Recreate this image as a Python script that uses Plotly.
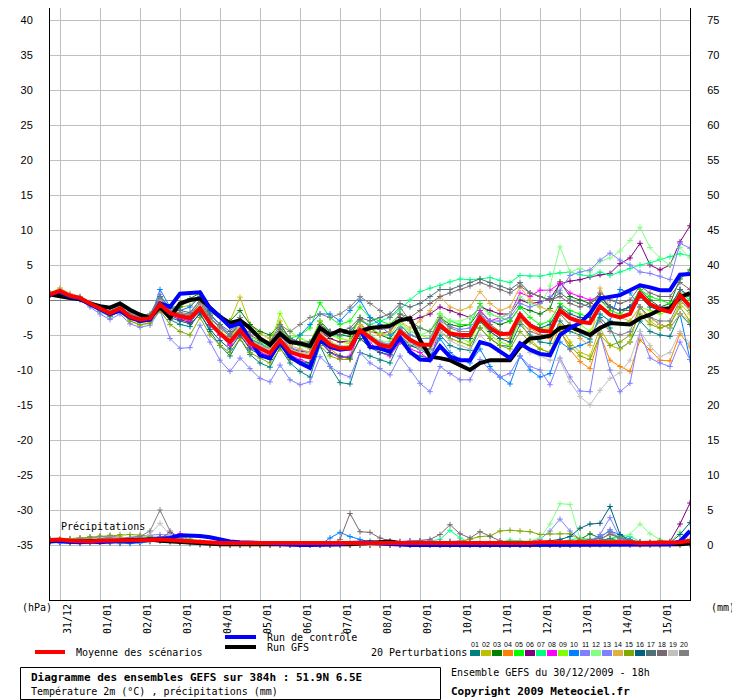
import pandas as pd
import plotly.graph_objects as go

# ---------------- DATA ----------------
run_start = "2009-12-30 18:00"
step = "6h"
date_labels = ["31/12", "01/01", "02/01", "03/01", "04/01", "05/01", "06/01", "07/01",
               "08/01", "09/01", "10/01", "11/01", "12/01", "13/01", "14/01", "15/01"]
temp_ticks = [-35, -30, -25, -20, -15, -10, -5, 0, 5, 10, 15, 20, 25, 30, 35, 40]
precip_ticks = [0, 5, 10, 15, 20, 25, 30, 35, 40, 45, 50, 55, 60, 65, 70, 75]

member_names = ["01", "02", "03", "04", "05", "06", "07", "08", "09", "10",
                "11", "12", "13", "14", "15", "16", "17", "18", "19", "20"]
member_colors = ["#008080", "#c0c000", "#008000", "#ff8000", "#00ff00", "#800080",
                 "#00ff80", "#ff00ff", "#80ff00", "#0080ff", "#8080ff", "#80ff80",
                 "#8080ff", "#e0b040", "#80a800", "#006080", "#507078", "#786870",
                 "#c0c0c0", "#808080"]

# 2m temperature (deg C), every 6 h
mean_t = [0.8, 1.3, 0.6, 0.3, -0.5, -1.2, -1.9, -1.2, -2.4, -2.8, -2.6, -0.6, -1.9, -2.3, -2.6,
          -1.2, -3.3, -4.8, -6.0, -4.3, -6.1, -6.9, -7.6, -5.7, -7.4, -7.9, -8.2, -5.1, -6.4, -6.9, -6.9,
          -4.3, -5.4, -6.4, -6.7, -4.5, -5.7, -6.4, -6.4, -3.6, -4.8, -5.0, -5.0, -2.5, -4.0, -4.9, -4.8,
          -2.1, -3.6, -4.4, -4.5, -1.5, -2.6, -3.1, -3.3, -0.9, -2.1, -2.5, -2.0, 0.9, -0.6, -1.3, -1.7,
          0.7, -0.9]
control_t = [0.8, 1.2, 0.5, 0.2, -0.6, -1.3, -2.0, -1.5, -2.5, -3.0, -2.8, -0.5, -1.0, 0.9, 1.0,
             1.1, -1.2, -2.4, -3.8, -3.3, -5.7, -7.9, -8.3, -6.0, -8.1, -9.0, -9.7, -5.7, -6.7, -7.1, -6.9,
             -4.3, -6.7, -6.9, -7.4, -5.4, -7.4, -8.5, -8.6, -6.6, -8.1, -8.6, -8.6, -6.0, -6.4, -7.4, -8.3,
             -6.2, -7.1, -7.7, -7.9, -5.0, -4.0, -3.3, -1.9, 0.2, 0.4, 0.7, 1.4, 2.1, 1.8, 1.4, 1.4,
             3.6, 3.7]
gfs_t = [0.8, 0.5, 0.3, 0.1, -0.5, -0.9, -1.1, -0.5, -1.4, -2.1, -2.6, -1.0, -2.5, -0.5, 0.0,
         0.2, -1.2, -2.4, -3.3, -2.9, -4.0, -5.5, -6.4, -4.8, -6.0, -6.2, -6.6, -4.0, -5.0, -4.3, -4.7,
         -4.5, -4.0, -3.8, -3.7, -2.9, -2.6, -5.7, -8.1, -8.3, -8.6, -9.3, -10.0, -9.0, -8.6, -8.6, -8.6,
         -6.7, -5.5, -5.4, -5.1, -4.0, -3.8, -4.4, -5.0, -4.0, -3.3, -3.4, -3.5, -2.6, -2.1, -1.4, -1.2,
         0.4, 1.0]

t01 = [0.9, 1.4, 0.7, 0.4, -0.6, -1.5, -2.3, -1.6, -2.6, -3.2, -3.0, 0.2, -2.8, -3.5, -3.8,
       -1.8, -4.5, -6.5, -8.0, -5.5, -7.8, -9.0, -9.6, -6.8, -9.0, -10.2, -11.0, -6.5, -9.5, -11.8, -12.0,
       -7.5, -8.0, -8.6, -9.0, -6.0, -7.5, -8.0, -8.3, -5.0, -6.5, -7.0, -7.2, -4.0, -5.5, -6.5, -6.6,
       -3.5, -5.0, -6.0, -6.2, -3.0, -4.5, -5.0, -5.6, -2.5, -4.0, -6.9, -6.0, -3.0, -4.5, -5.0, -5.2,
       -2.0, -3.5]
t02 = [1.0, 1.7, 0.9, 0.5, -0.4, -1.3, -2.2, -1.7, -3.0, -3.6, -3.3, -0.4, -1.5, -1.0, -0.8,
       0.6, -1.8, -2.5, -3.0, 0.4, -3.5, -4.8, -5.5, -3.0, -6.0, -6.5, -7.0, -4.0, -5.5, -6.0, -6.2,
       -3.5, -5.0, -6.0, -6.5, -4.0, -5.5, -6.2, -6.6, -3.0, -5.0, -5.5, -5.0, -2.0, -3.5, -4.5, -5.5,
       -3.0, -5.5, -7.0, -7.5, -3.5, -6.0, -7.5, -8.0, -4.0, -6.5, -7.0, -6.0, -1.0, -3.0, -4.0, -3.5,
       -0.5, -2.0]
t03 = [0.8, 1.2, 0.5, 0.2, -0.7, -1.4, -2.0, -1.0, -2.2, -2.6, -2.4, 0.5, -1.0, -1.0, 0.2,
       1.0, -1.5, -2.3, -3.0, -1.5, -3.5, -4.5, -5.0, -3.5, -5.5, -6.0, -6.3, -3.0, -4.5, -5.0, -5.2,
       -2.5, -4.0, -5.0, -5.5, -3.5, -5.0, -5.5, -5.5, -2.5, -3.5, -3.8, -3.5, -1.5, -3.0, -3.5, -3.0,
       -1.0, -1.5, -2.0, -1.2, 2.6, 0.5, 0.0, -0.5, 0.5, -1.0, -1.5, -1.0, 1.5, 0.0, -1.0, -0.5,
       3.0, 4.3]
t04 = [0.7, 1.3, 0.6, 0.3, -0.4, -1.0, -1.7, -1.2, -2.3, -2.6, -2.5, -0.8, -2.0, -2.6, -3.0,
       -1.5, -3.5, -5.0, -6.3, -4.8, -6.5, -7.4, -8.0, -5.5, -7.0, -7.5, -7.8, -5.5, -7.0, -8.0, -8.5,
       -4.0, -5.5, -6.5, -7.0, -4.5, -6.0, -6.8, -7.0, -3.5, -4.5, -5.0, -5.5, -3.0, -4.5, -5.5, -5.5,
       -2.5, -4.0, -5.0, -5.5, -4.3, -7.1, -8.8, -9.8, -5.0, -8.6, -9.5, -10.2, -5.7, -7.1, -8.6, -8.7,
       -4.8, -6.7]
t05 = [0.8, 1.3, 0.6, 0.3, -0.5, -1.1, -1.8, -1.0, -2.2, -2.5, -2.3, 0.0, -1.8, -2.2, -2.6,
       -0.8, -3.0, -4.5, -5.8, -3.5, -5.5, -6.5, -7.0, -4.5, -5.5, -5.0, -4.0, -0.4, -2.5, -3.5, -3.0,
       -1.0, -2.5, -3.0, -3.5, -2.0, -3.0, -4.0, -4.5, -2.0, -3.0, -3.5, -3.5, -0.5, -2.0, -2.5, -3.0,
       -1.0, -2.5, -3.5, -3.0, -0.5, -1.5, -2.0, -2.5, 0.0, -1.5, -2.0, -1.0, 1.5, 0.5, 0.0, -0.5,
       1.0, 0.0]
t06 = [0.9, 1.3, 0.6, 0.3, -0.6, -1.3, -2.1, -1.3, -2.5, -3.0, -2.8, -0.8, -2.2, -2.8, -3.2,
       -1.5, -3.6, -5.0, -6.3, -4.5, -6.3, -7.0, -7.5, -5.5, -7.0, -7.3, -7.5, -4.5, -5.5, -6.0, -5.8,
       -3.5, -4.5, -4.8, -4.5, -2.5, -3.0, -2.5, -2.0, -1.0, -1.5, -2.1, -2.5, -1.0, -1.5, -2.0, -2.0,
       0.0, -0.5, -0.3, 0.2, 2.3, 2.7, 2.9, 3.3, 3.6, 3.8, 5.2, 6.0, 8.1, 5.0, 4.3, 5.0,
       8.3, 10.6]
t07 = [0.8, 1.2, 0.6, 0.2, -0.6, -1.4, -2.0, -1.3, -2.5, -3.0, -2.8, -0.6, -2.0, -2.5, -2.8,
       -1.0, -3.0, -4.5, -5.5, -3.8, -5.5, -6.2, -6.8, -4.8, -6.0, -6.5, -6.8, -4.0, -5.0, -5.2, -4.5,
       -3.0, -3.5, -3.0, -2.5, -1.4, 0.0, 1.2, 1.7, 2.1, 2.6, 3.0, 2.9, 3.0, 3.2, 2.8, 2.5,
       3.5, 3.4, 3.4, 3.7, 3.9, 4.0, 3.6, 3.4, 4.0, 3.5, 4.0, 4.5, 5.0, 5.3, 5.8, 6.2,
       6.6, 6.3]
t08 = [0.7, 1.2, 0.5, 0.2, -0.6, -1.3, -2.0, -1.3, -2.5, -2.9, -2.8, -0.4, -2.0, -2.6, -3.0,
       -1.5, -3.5, -5.0, -6.5, -5.0, -6.8, -7.5, -8.0, -6.0, -7.8, -8.5, -9.0, -5.5, -7.5, -8.3, -8.0,
       -4.5, -6.0, -7.5, -8.0, -6.0, -7.0, -7.5, -8.6, -4.0, -5.0, -5.5, -5.0, -1.5, -3.0, -2.5, -2.0,
       1.0, 0.5, 1.4, 1.4, 2.4, 1.0, 0.5, 0.0, 0.5, -1.0, -1.5, -1.0, 1.0, -0.5, -1.0, -1.5,
       0.5, -1.0]
t09 = [0.8, 1.3, 0.6, 0.4, -0.4, -1.2, -1.8, -0.8, -2.2, -2.8, -2.6, 0.2, -1.6, -2.0, -2.4,
       -0.5, -3.0, -4.4, -5.5, -3.0, -5.2, -6.0, -6.5, -1.9, -4.5, -5.5, -6.0, -3.0, -5.0, -5.5, -5.8,
       -2.5, -4.0, -4.8, -5.0, -3.0, -4.5, -5.0, -5.5, -2.0, -4.5, -5.5, -6.0, -3.0, -5.0, -6.0, -6.5,
       -2.5, -3.5, -4.0, -4.0, -1.0, -2.5, -3.5, -4.5, -2.0, -3.0, -3.5, -3.0, -1.0, -1.5, -2.0, -1.5,
       0.0, -1.5]
t10 = [0.7, 1.1, 0.5, 0.1, -0.8, -1.6, -2.4, -1.5, -2.7, -3.0, -2.8, 1.5, -1.0, -1.5, -1.0,
       0.5, -2.0, -3.5, -5.0, -3.5, -5.5, -6.3, -7.0, -5.0, -6.8, -5.0, -3.5, -2.0, -2.0, -3.0, -1.5,
       0.0, -2.5, -3.5, -5.0, -4.0, -6.0, -7.0, -8.0, -5.5, -7.5, -8.5, -9.0, -7.0, -9.5, -11.0, -12.0,
       -8.0, -10.0, -11.0, -10.5, -6.0, -7.0, -6.5, -6.0, -2.0, -3.0, 1.5, 1.0, -1.0, -2.5, -3.5, -4.0,
       -2.0, -8.5]
t11 = [0.7, 1.1, 0.4, 0.0, -1.0, -2.0, -2.8, -2.0, -3.4, -3.9, -3.6, -1.5, -5.5, -6.9, -6.8,
       -3.6, -6.0, -8.6, -10.2, -8.3, -9.8, -11.2, -11.7, -9.3, -11.4, -12.1, -11.7, -8.1, -9.5, -10.5, -11.0,
       -7.5, -9.0, -9.8, -10.7, -8.0, -10.0, -11.9, -13.1, -9.5, -10.5, -11.4, -11.4, -8.5, -10.0, -11.0, -10.5,
       -8.0, -9.5, -10.0, -12.1, -8.3, -11.0, -13.0, -13.1, -4.8, -10.0, -13.1, -11.9, -4.5, -8.3, -9.0, -9.5,
       -6.0, -8.5]
t12 = [0.8, 1.3, 0.6, 0.3, -0.5, -1.2, -1.9, -1.1, -2.3, -2.7, -2.5, -0.3, -1.8, -2.2, -2.5,
       -1.0, -3.2, -4.7, -6.0, -4.0, -6.0, -6.8, -7.4, -5.5, -7.0, -7.5, -7.8, -4.5, -6.0, -6.5, -6.5,
       -4.0, -5.0, -5.8, -6.0, -3.5, -4.5, -5.0, -4.5, -2.0, -3.0, -3.0, -2.5, -1.0, -2.0, -2.5, -2.0,
       0.5, -0.5, -1.0, 2.0, 7.6, 4.0, 4.5, 4.0, 5.5, 6.0, 7.0, 8.5, 10.4, 7.5, 6.0, 5.0,
       7.5, 6.0]
t13 = [0.9, 1.4, 0.7, 0.4, -0.4, -1.1, -1.7, -1.0, -2.0, -2.4, -2.2, 0.8, -1.5, -2.0, -2.4,
       -0.8, -3.2, -4.6, -5.8, -4.0, -5.8, -6.6, -7.2, -5.0, -6.8, -7.2, -7.4, -4.8, -6.2, -6.6, -6.8,
       -4.2, -5.2, -6.0, -6.3, -4.2, -5.0, -5.5, -5.5, -3.0, -3.8, -4.2, -4.0, -2.0, -3.0, -3.0, -2.5,
       -0.5, -1.0, -0.5, 0.5, 1.4, 3.5, 4.0, 4.3, 5.7, 6.7, 5.7, 5.0, 4.0, 3.8, 3.4, 2.9,
       8.1, 7.4]
t14 = [1.0, 1.7, 0.8, 0.5, -0.3, -1.0, -1.8, -1.2, -2.6, -3.0, -2.8, -0.5, -1.7, -2.0, -2.3,
       -0.5, -3.0, -4.5, -5.5, -3.5, -5.5, -6.5, -7.0, -5.0, -6.5, -7.0, -7.5, -4.5, -6.0, -6.8, -6.5,
       -3.5, -4.5, -5.0, -4.5, -3.0, -4.0, -3.0, -1.5, 0.5, -1.0, -1.5, -1.0, 1.2, -0.5, -1.5, -1.0,
       1.9, 0.0, -1.0, -1.5, -2.0, -3.5, -5.5, -6.5, 1.7, -1.0, -2.5, -3.0, -1.0, -2.5, -3.5, -4.0,
       -2.0, -3.0]
t15 = [0.7, 1.2, 0.5, 0.2, -0.7, -1.5, -2.3, -1.6, -3.0, -3.5, -3.3, -1.5, -3.5, -4.5, -5.0,
       -2.5, -5.0, -6.5, -7.5, -5.5, -7.5, -8.3, -9.0, -7.0, -8.5, -9.0, -9.2, -6.5, -8.0, -8.5, -8.5,
       -5.5, -6.5, -7.0, -7.5, -5.5, -6.5, -7.0, -7.2, -4.5, -5.5, -6.0, -6.5, -4.0, -5.5, -6.5, -7.0,
       -4.5, -6.0, -7.0, -7.5, -4.5, -6.5, -8.0, -8.5, -5.0, -6.5, -6.0, -5.0, -2.0, -3.5, -4.0, -3.5,
       -1.0, -3.0]
t16 = [0.8, 1.2, 0.6, 0.3, -0.5, -1.2, -2.0, -1.2, -2.4, -2.8, -2.6, -0.5, -2.5, -3.0, -3.4,
       -2.0, -4.2, -5.8, -7.0, -5.0, -7.0, -7.8, -8.5, -6.5, -8.2, -8.8, -9.0, -6.0, -7.5, -8.0, -8.3,
       -5.5, -6.8, -7.5, -7.8, -5.0, -6.5, -7.0, -7.0, -4.0, -5.0, -5.5, -5.5, -3.0, -4.5, -5.5, -6.0,
       -2.0, -3.5, -4.0, -3.5, -1.0, -2.0, -2.5, -2.5, 0.5, -1.0, -1.5, -1.0, 0.5, -1.0, -1.5, -1.0,
       1.5, 0.5]
t17 = [0.9, 1.4, 0.7, 0.4, -0.4, -1.0, -1.6, -0.6, -1.8, -2.2, -2.0, 0.5, -1.2, -1.5, -1.8,
       0.0, -2.2, -3.5, -4.5, -2.5, -4.5, -5.5, -6.0, -4.0, -5.5, -6.0, -6.0, -3.5, -4.5, -4.5, -4.0,
       -2.5, -3.0, -2.5, -2.0, -0.5, -1.0, -0.5, 0.5, 1.5, 1.5, 2.0, 2.5, 3.0, 2.5, 2.0, 1.5,
       2.5, 1.0, 0.5, 0.0, 1.0, 0.0, -0.5, -1.0, 0.0, -1.0, -1.5, -1.5, 0.5, -0.5, -1.0, -1.0,
       1.5, 0.5]
t18 = [0.8, 1.3, 0.6, 0.3, -0.5, -1.2, -1.9, -0.9, -2.1, -2.6, -2.4, -0.2, -1.7, -2.0, -2.2,
       -0.4, -2.6, -4.0, -5.2, -3.0, -5.0, -5.8, -6.4, -4.2, -5.8, -6.2, -6.5, -3.5, -4.8, -5.0, -4.5,
       -2.8, -3.8, -4.2, -4.0, -2.0, -2.5, -1.5, -0.5, 0.5, 1.0, 1.5, 2.0, 2.5, 2.0, 1.5, 1.0,
       2.0, 1.0, 0.5, 0.0, 0.5, -0.5, -1.0, -0.5, 1.0, 0.0, -0.5, 0.0, 2.0, 1.0, 0.5, 0.5,
       2.5, 1.5]
t19 = [0.9, 1.5, 0.8, 0.4, -0.4, -1.1, -1.8, -1.0, -2.3, -2.7, -2.5, 0.0, -1.7, -2.2, -2.5,
       -0.8, -3.0, -4.5, -5.7, -3.8, -5.8, -6.6, -7.2, -5.5, -7.2, -7.6, -7.8, -5.0, -6.5, -7.0, -7.2,
       -4.5, -5.8, -6.8, -7.2, -5.0, -6.2, -7.0, -7.3, -4.5, -5.8, -6.5, -7.0, -5.0, -6.5, -7.5, -8.0,
       -6.0, -7.5, -8.0, -8.6, -8.6, -11.7, -13.8, -15.0, -12.9, -11.2, -10.4, -8.6, -4.5, -6.5, -8.1, -7.5,
       -4.5, -6.2]
t20 = [0.8, 1.3, 0.6, 0.3, -0.4, -1.0, -1.7, -0.8, -2.0, -2.4, -2.2, 0.3, -1.5, -1.8, -2.0,
       0.0, -2.5, -3.8, -5.0, -2.5, -4.5, -5.5, -6.0, -3.5, -4.5, -3.5, -2.5, -2.0, -2.5, -2.0, -1.0,
       0.5, -0.5, -1.5, -2.5, -1.0, -3.0, -4.0, -4.5, -2.5, -4.0, -4.5, -4.5, -2.0, -3.5, -4.5, -5.0,
       -3.0, -4.5, -5.0, -5.0, -2.0, -3.5, -4.5, -5.0, -3.0, -4.5, -5.0, -4.5, -1.0, -2.5, -3.0, -3.0,
       0.0, -1.5]

# 6-hourly precipitation (mm)
mean_p = [0.7, 0.8, 0.6, 0.5, 0.5, 0.6, 0.6, 0.7, 0.7, 0.7, 0.7, 0.8, 0.7, 0.6, 0.5, 0.4, 0.4, 0.3, 0.3, 0.3,
          0.3, 0.2, 0.2, 0.2, 0.2, 0.2, 0.2, 0.2, 0.2, 0.3, 0.3, 0.3, 0.3, 0.3, 0.3, 0.3, 0.2, 0.2, 0.2, 0.3,
          0.3, 0.3, 0.3, 0.3, 0.3, 0.3, 0.3, 0.3, 0.3, 0.4, 0.4, 0.5, 0.5, 0.5, 0.4, 0.4, 0.5, 0.5, 0.4, 0.3,
          0.3, 0.3, 0.4, 0.4, 0.6]
control_p = [0.6, 0.5, 0.5, 0.4, 0.5, 0.4, 0.5, 0.6, 0.5, 0.6, 0.7, 0.8, 1.0, 1.4, 1.4, 1.3, 1.1, 0.8, 0.5, 0.4,
             0.4, 0.3, 0.2, 0.1, 0.1, 0.0, 0.0, 0.0, 0.0, 0.1, 0.3, 0.4, 0.4, 0.2, 0.1, 0.0, 0.0, 0.0, 0.0, 0.0,
             0.0, 0.0, 0.0, 0.0, 0.0, 0.0, 0.0, 0.0, 0.0, 0.0, 0.0, 0.0, 0.0, 0.0, 0.0, 0.0, 0.0, 0.0, 0.0, 0.0,
             0.0, 0.0, 0.1, 0.5, 2.0]
gfs_p = [0.5, 0.6, 0.5, 0.5, 0.6, 0.5, 0.5, 0.6, 0.7, 0.8, 0.8, 0.6, 0.5, 0.4, 0.3, 0.2, 0.1, 0.1, 0.1, 0.1,
         0.1, 0.0, 0.0, 0.0, 0.0, 0.0, 0.0, 0.0, 0.0, 0.0, 0.1, 0.2, 0.3, 0.4, 0.5, 0.3, 0.1, 0.0, 0.0, 0.0,
         0.0, 0.0, 0.0, 0.0, 0.0, 0.0, 0.0, 0.0, 0.0, 0.0, 0.0, 0.0, 0.0, 0.0, 0.0, 0.0, 0.0, 0.0, 0.0, 0.0,
         0.0, 0.0, 0.0, 0.1, 0.2]

p01 = [0.8, 0.6, 0.4, 0.5, 0.6, 0.5, 0.4, 0.5, 0.6, 0.5, 0.6, 0.8, 0.5, 0.3, 0.2, 0.1, 0.1, 0.0, 0.0, 0.0,
       0.0, 0.0, 0.0, 0.0, 0.0, 0.0, 0.0, 0.0, 0.0, 0.1, 0.2, 0.3, 0.1, 0.0, 0.0, 0.0, 0.1, 0.2, 0.1, 0.0,
       0.0, 0.1, 0.2, 0.1, 0.0, 0.0, 0.0, 0.2, 0.4, 0.3, 0.2, 0.5, 0.3, 0.1, 0.2, 0.1, 0.0, 0.2, 0.3, 0.1,
       0.0, 0.1, 0.2, 0.5, 0.3]
p02 = [0.9, 0.7, 0.9, 1.0, 0.8, 0.7, 0.6, 0.8, 0.9, 1.0, 1.0, 0.9, 0.6, 0.4, 0.2, 0.1, 0.0, 0.0, 0.0, 0.0,
       0.0, 0.0, 0.0, 0.0, 0.0, 0.0, 0.0, 0.0, 0.0, 0.0, 0.1, 0.0, 0.0, 0.0, 0.0, 0.0, 0.0, 0.0, 0.0, 0.0,
       0.0, 0.0, 0.0, 0.0, 0.0, 0.1, 0.2, 0.3, 0.4, 0.2, 0.1, 0.0, 0.0, 0.0, 0.1, 0.2, 0.1, 0.0, 0.0, 0.0,
       0.0, 0.0, 0.1, 0.2, 0.4]
p03 = [0.7, 0.6, 0.5, 0.7, 0.8, 0.6, 0.7, 0.6, 0.5, 0.7, 0.9, 1.0, 0.8, 0.5, 0.4, 0.3, 0.2, 0.1, 0.0, 0.0,
       0.0, 0.0, 0.0, 0.0, 0.0, 0.0, 0.0, 0.0, 0.0, 0.0, 0.0, 0.1, 0.1, 0.0, 0.0, 0.0, 0.0, 0.0, 0.0, 0.2,
       0.5, 0.3, 0.2, 0.1, 0.0, 0.1, 0.2, 0.1, 0.0, 0.0, 0.0, 0.0, 0.2, 0.8, 1.6, 1.0, 0.4, 0.2, 0.1, 0.2,
       0.4, 0.3, 0.1, 0.0, 0.2]
p04 = [0.6, 0.9, 0.7, 0.6, 0.5, 0.8, 1.1, 0.7, 0.6, 0.6, 0.5, 0.6, 0.5, 0.4, 0.3, 0.1, 0.1, 0.0, 0.0, 0.0,
       0.0, 0.0, 0.0, 0.0, 0.0, 0.0, 0.0, 0.0, 0.0, 0.0, 0.0, 0.0, 0.0, 0.0, 0.0, 0.0, 0.0, 0.1, 0.0, 0.0,
       0.0, 0.0, 0.0, 0.0, 0.0, 0.0, 0.0, 0.0, 0.0, 0.0, 0.1, 0.3, 0.2, 0.1, 0.0, 0.0, 0.0, 0.1, 0.2, 0.1,
       0.0, 0.0, 0.0, 0.0, 0.0]
p05 = [0.6, 0.5, 0.6, 0.5, 0.4, 0.5, 0.6, 0.5, 0.4, 0.6, 0.8, 1.2, 1.0, 1.3, 0.8, 0.4, 0.2, 0.1, 0.0, 0.0,
       0.0, 0.0, 0.0, 0.0, 0.0, 0.0, 0.0, 0.0, 0.0, 0.1, 0.3, 0.2, 0.1, 0.0, 0.0, 0.1, 0.3, 0.2, 0.1, 0.0,
       0.0, 0.0, 0.1, 0.2, 0.3, 0.2, 0.1, 0.0, 0.0, 0.0, 0.1, 0.2, 0.4, 0.3, 0.2, 0.6, 0.8, 1.2, 0.5, 0.3,
       0.2, 0.1, 0.2, 0.3, 0.2]
p06 = [0.7, 0.6, 0.5, 0.6, 0.5, 0.4, 0.5, 0.6, 0.5, 0.4, 0.7, 0.9, 1.8, 0.9, 0.4, 0.2, 0.1, 0.0, 0.0, 0.0,
       0.0, 0.0, 0.0, 0.0, 0.0, 0.0, 0.0, 0.0, 0.0, 0.0, 0.0, 0.0, 0.0, 0.0, 0.0, 0.0, 0.0, 0.0, 0.0, 0.0,
       0.0, 0.0, 0.1, 0.1, 0.0, 0.0, 0.0, 0.0, 0.0, 0.0, 0.1, 0.1, 0.0, 0.0, 0.2, 0.4, 0.6, 0.5, 0.3, 0.4,
       0.3, 0.2, 0.5, 3.0, 6.0]
p07 = [0.6, 0.5, 0.5, 0.6, 0.5, 0.6, 0.5, 0.4, 0.5, 0.6, 0.7, 0.8, 0.6, 0.5, 0.4, 0.2, 0.1, 0.0, 0.0, 0.0,
       0.0, 0.0, 0.0, 0.0, 0.0, 0.0, 0.0, 0.0, 0.0, 0.0, 0.1, 0.2, 0.6, 0.5, 0.3, 0.2, 0.1, 0.3, 0.6, 0.8,
       2.1, 1.0, 0.3, 0.1, 0.2, 0.5, 0.7, 0.6, 0.5, 0.3, 0.2, 0.4, 0.7, 1.0, 0.8, 0.6, 0.9, 1.4, 1.2, 0.5,
       0.3, 0.2, 0.1, 0.3, 0.5]
p08 = [0.5, 0.4, 0.5, 0.4, 0.5, 0.6, 0.5, 0.4, 0.5, 0.5, 0.6, 0.7, 0.9, 1.6, 0.5, 0.3, 0.1, 0.0, 0.0, 0.0,
       0.0, 0.0, 0.0, 0.0, 0.0, 0.0, 0.0, 0.0, 0.0, 0.0, 0.0, 0.1, 0.0, 0.0, 0.0, 0.0, 0.0, 0.0, 0.0, 0.0,
       0.0, 0.0, 0.0, 0.0, 0.0, 0.0, 0.0, 0.0, 0.0, 0.0, 0.0, 0.0, 0.0, 0.0, 0.0, 0.1, 0.2, 0.1, 0.0, 0.0,
       0.0, 0.0, 0.1, 0.2, 0.1]
p09 = [0.5, 0.6, 0.5, 0.4, 0.6, 0.5, 0.4, 0.5, 0.6, 0.5, 0.7, 1.1, 1.3, 1.2, 0.9, 0.5, 0.2, 0.1, 0.0, 0.0,
       0.0, 0.0, 0.0, 0.0, 0.0, 0.0, 0.0, 0.0, 0.0, 0.0, 0.0, 0.1, 0.1, 0.0, 0.0, 0.0, 0.0, 0.0, 0.0, 0.0,
       0.0, 0.0, 0.1, 0.2, 0.2, 0.1, 0.0, 0.0, 0.0, 0.0, 0.0, 0.1, 0.2, 0.3, 0.2, 0.1, 0.2, 0.4, 0.3, 0.2,
       0.1, 0.2, 0.3, 0.4, 0.3]
p10 = [0.4, 0.3, 0.3, 0.2, 0.3, 0.4, 0.3, 0.2, 0.2, 0.3, 0.5, 0.6, 0.5, 0.4, 0.3, 0.2, 0.1, 0.0, 0.0, 0.0,
       0.0, 0.0, 0.0, 0.0, 0.0, 0.0, 0.0, 0.0, 1.0, 1.8, 1.2, 0.8, 0.4, 0.0, 0.0, 0.0, 0.0, 0.0, 0.0, 0.0,
       0.0, 0.0, 0.0, 0.0, 0.0, 0.0, 0.0, 0.0, 0.0, 0.0, 0.0, 0.0, 0.1, 0.3, 0.5, 1.2, 2.0, 1.5, 0.8, 0.3,
       0.2, 0.1, 0.0, 0.1, 0.3]
p11 = [0.6, 0.5, 0.7, 0.9, 1.1, 1.2, 1.0, 0.9, 1.1, 1.3, 1.4, 1.5, 1.4, 1.0, 0.6, 0.3, 0.1, 0.0, 0.0, 0.0,
       0.0, 0.0, 0.0, 0.0, 0.0, 0.0, 0.0, 0.0, 0.0, 0.0, 0.0, 0.1, 0.2, 0.3, 0.4, 0.5, 0.6, 0.6, 0.5, 0.4,
       0.5, 0.6, 0.5, 0.3, 0.2, 0.1, 0.1, 0.3, 0.5, 0.8, 2.0, 3.7, 2.0, 0.8, 0.5, 1.5, 3.9, 1.0, 0.4, 0.3,
       0.2, 0.2, 0.4, 0.6, 0.4]
p12 = [0.7, 0.6, 0.6, 0.7, 0.6, 0.5, 0.7, 0.8, 0.7, 0.6, 0.8, 0.9, 0.7, 0.5, 0.3, 0.2, 0.1, 0.0, 0.0, 0.0,
       0.0, 0.0, 0.0, 0.0, 0.0, 0.0, 0.0, 0.0, 0.0, 0.0, 0.1, 0.2, 0.1, 0.0, 0.0, 0.0, 0.0, 0.0, 0.0, 0.1,
       0.2, 0.1, 0.0, 0.0, 0.1, 0.2, 0.3, 0.4, 0.6, 1.0, 3.0, 5.9, 5.8, 0.9, 0.5, 0.4, 0.6, 0.9, 1.5, 3.0,
       1.6, 0.8, 0.4, 1.9, 0.6]
p13 = [0.5, 0.6, 0.7, 0.8, 1.0, 1.2, 1.3, 1.1, 1.0, 0.9, 1.0, 1.2, 1.1, 0.8, 0.5, 0.2, 0.1, 0.0, 0.0, 0.0,
       0.0, 0.0, 0.0, 0.0, 0.0, 0.0, 0.0, 0.0, 0.0, 0.0, 0.0, 0.0, 0.1, 0.2, 0.4, 0.5, 0.6, 0.6, 0.6, 0.5,
       0.4, 0.3, 0.3, 0.2, 0.2, 0.1, 0.1, 0.1, 0.2, 0.3, 0.4, 0.3, 0.2, 0.3, 0.5, 1.0, 2.2, 0.8, 0.3, 0.2,
       0.1, 0.2, 0.3, 0.5, 0.8]
p14 = [0.8, 0.7, 0.9, 1.0, 0.9, 0.8, 0.9, 1.2, 0.8, 0.7, 0.6, 0.7, 0.6, 0.4, 0.3, 0.2, 0.1, 0.0, 0.0, 0.0,
       0.0, 0.0, 0.0, 0.0, 0.0, 0.0, 0.0, 0.0, 0.0, 0.0, 0.0, 0.0, 0.0, 0.0, 0.0, 0.0, 0.0, 0.0, 0.0, 0.0,
       0.0, 0.0, 0.0, 0.0, 0.0, 0.0, 0.0, 0.0, 0.0, 0.0, 0.0, 0.1, 0.2, 0.1, 0.0, 0.0, 0.1, 0.2, 0.1, 0.0,
       0.0, 0.0, 0.1, 0.1, 0.0]
p15 = [0.7, 0.8, 0.9, 1.0, 1.2, 1.3, 1.4, 1.5, 1.5, 1.4, 1.2, 1.0, 0.8, 0.6, 0.4, 0.2, 0.1, 0.0, 0.0, 0.0,
       0.0, 0.0, 0.0, 0.0, 0.0, 0.0, 0.0, 0.0, 0.0, 0.0, 0.0, 0.0, 0.0, 0.0, 0.0, 0.0, 0.0, 0.1, 0.2, 0.2,
       0.3, 0.5, 0.8, 1.2, 1.3, 2.0, 2.1, 2.0, 1.9, 1.5, 1.6, 1.6, 1.6, 0.8, 0.5, 0.3, 0.2, 0.1, 0.1, 0.2,
       0.0, 0.0, 0.1, 0.2, 0.1]
p16 = [0.6, 0.5, 0.6, 0.5, 0.6, 0.7, 0.6, 0.5, 0.6, 0.7, 0.8, 0.7, 0.6, 0.4, 0.3, 0.1, 0.1, 0.0, 0.0, 0.0,
       0.0, 0.0, 0.0, 0.0, 0.0, 0.0, 0.0, 0.0, 0.0, 0.0, 0.0, 0.0, 0.0, 0.0, 0.0, 0.0, 0.0, 0.0, 0.0, 0.0,
       0.0, 0.0, 0.0, 0.0, 0.0, 0.0, 0.0, 0.1, 0.2, 0.4, 0.6, 0.8, 1.2, 2.4, 3.0, 3.1, 5.5, 1.5, 0.5, 0.3,
       0.2, 0.1, 0.3, 1.5, 3.2]
p17 = [0.7, 0.6, 0.7, 0.6, 0.7, 0.8, 0.7, 0.6, 0.8, 0.9, 1.0, 1.1, 0.9, 0.6, 0.4, 0.2, 0.1, 0.0, 0.0, 0.0,
       0.0, 0.0, 0.0, 0.0, 0.0, 0.0, 0.0, 0.0, 0.0, 0.0, 0.0, 0.0, 0.0, 0.1, 0.2, 0.1, 0.0, 0.0, 0.1, 0.2,
       0.3, 0.2, 0.1, 0.0, 0.0, 0.0, 0.0, 0.0, 0.0, 0.0, 0.0, 0.0, 0.1, 0.2, 0.4, 0.6, 0.9, 0.5, 0.2, 0.1,
       0.1, 0.0, 0.2, 0.3, 0.2]
p18 = [0.6, 0.7, 0.6, 0.7, 0.8, 0.7, 0.6, 0.7, 0.8, 0.7, 0.8, 1.0, 0.9, 0.6, 0.4, 0.2, 0.1, 0.0, 0.0, 0.0,
       0.0, 0.0, 0.0, 0.0, 0.0, 0.0, 0.0, 0.0, 0.0, 0.8, 4.5, 1.9, 1.8, 1.0, 0.6, 0.4, 0.5, 0.6, 0.8, 1.5,
       2.9, 1.6, 1.0, 1.9, 1.2, 0.6, 0.3, 0.2, 0.1, 0.1, 0.2, 0.3, 0.4, 0.6, 0.8, 0.9, 1.5, 1.0, 0.6, 0.4,
       0.3, 0.6, 0.4, 0.3, 0.2]
p19 = [0.7, 0.6, 0.7, 0.8, 0.7, 0.8, 0.9, 0.8, 0.9, 1.0, 1.5, 3.1, 1.4, 0.8, 0.4, 0.2, 0.1, 0.0, 0.0, 0.0,
       0.0, 0.0, 0.0, 0.0, 0.0, 0.0, 0.0, 0.0, 0.0, 0.0, 0.0, 0.0, 0.0, 0.0, 0.0, 0.0, 0.0, 0.0, 0.0, 0.0,
       0.0, 0.0, 0.0, 0.0, 0.0, 0.0, 0.0, 0.0, 0.0, 0.0, 0.0, 0.0, 0.0, 0.1, 0.2, 0.1, 0.0, 0.0, 0.1, 0.0,
       0.0, 0.0, 0.0, 0.0, 0.0]
p20 = [0.8, 0.7, 0.8, 0.9, 0.8, 0.9, 1.0, 0.9, 1.0, 1.2, 2.0, 5.0, 2.0, 1.0, 0.5, 0.2, 0.1, 0.0, 0.0, 0.0,
       0.0, 0.0, 0.0, 0.0, 0.0, 0.0, 0.0, 0.0, 0.0, 0.0, 0.2, 0.3, 0.2, 0.1, 0.0, 0.0, 0.0, 0.0, 0.0, 0.0,
       0.0, 0.0, 0.0, 0.0, 0.0, 0.0, 0.0, 0.0, 0.0, 0.0, 0.0, 0.0, 0.0, 0.1, 0.3, 0.6, 1.8, 1.0, 0.6, 0.4,
       0.3, 0.2, 0.4, 0.3, 0.2]

member_temps = [t01, t02, t03, t04, t05, t06, t07, t08, t09, t10,
                t11, t12, t13, t14, t15, t16, t17, t18, t19, t20]
member_precs = [p01, p02, p03, p04, p05, p06, p07, p08, p09, p10,
                p11, p12, p13, p14, p15, p16, p17, p18, p19, p20]

# ---------------- FIGURE ----------------
# The page body adds an 8 px margin, so the figure is 8 px smaller and all
# screen positions below are given in window pixels and shifted by OFF.
OFF = 8
W, H = 740 - OFF, 700 - OFF
ML, MT, MB = 50 - OFF, 0, 100
PW = 640
MR = W - ML - PW
PH = H - MT - MB
PX_PER_DEG = 7.0
Y_ZERO_SCREEN = 300  # screen row of 0 degC
T_HI = (Y_ZERO_SCREEN - OFF) / PX_PER_DEG
T_LO = T_HI - PH / PX_PER_DEG
P_OFF = 35.0  # precipitation 0 mm sits on the -35 degC line

times = pd.date_range(run_start, periods=65, freq=step)
t_end = times[-1]
day_ticks = pd.date_range("2009-12-31", periods=len(date_labels), freq="D")


def px(xs):
    return (xs - OFF - ML) / PW


def py(ys):
    return (MT + PH - (ys - OFF)) / PH


MONO = "DejaVu Sans Mono"
SANS = "Liberation Sans"


def member_marker(col):
    return dict(color=col, size=4, symbol="cross-thin", line=dict(color=col, width=1))


fig = go.Figure()

for vals, col in zip(member_precs, member_colors):
    fig.add_trace(go.Scatter(x=times[:len(vals)], y=vals, yaxis="y2", mode="lines+markers",
                             line=dict(color=col, width=1), marker=member_marker(col),
                             hoverinfo="skip", showlegend=False))
for vals, col in zip(member_temps, member_colors):
    fig.add_trace(go.Scatter(x=times[:len(vals)], y=vals, mode="lines+markers",
                             line=dict(color=col, width=1), marker=member_marker(col),
                             hoverinfo="skip", showlegend=False))

for vals, col, ax in [(gfs_p, "#000000", "y2"), (control_p, "#0000ff", "y2"), (mean_p, "#ff0000", "y2"),
                      (gfs_t, "#000000", "y"), (control_t, "#0000ff", "y"), (mean_t, "#ff0000", "y")]:
    fig.add_trace(go.Scatter(x=times[:len(vals)], y=vals, yaxis=ax, mode="lines",
                             line=dict(color=col, width=4), hoverinfo="skip", showlegend=False))

fig.update_layout(
    width=W, height=H, margin=dict(l=ML, r=MR, t=MT, b=MB, pad=0),
    paper_bgcolor="white", plot_bgcolor="white", showlegend=False,
    xaxis=dict(range=[times[0], t_end], tickvals=list(day_ticks), showticklabels=False,
               showgrid=True, gridcolor="#c0c0c0", gridwidth=1, ticks="",
               showline=True, linecolor="#000000", linewidth=1, zeroline=False, fixedrange=True),
    yaxis=dict(range=[T_LO, T_HI], tickvals=temp_ticks, ticktext=[str(v) for v in temp_ticks],
               showgrid=True, gridcolor="#c0c0c0", gridwidth=1, zeroline=True, zerolinecolor="#808080",
               zerolinewidth=1, showline=True, linecolor="#000000", linewidth=1, ticks="",
               ticklabelstandoff=14, tickfont=dict(family=SANS, size=11, color="#000000"), fixedrange=True),
    yaxis2=dict(range=[T_LO + P_OFF, T_HI + P_OFF], overlaying="y", side="right",
                tickvals=precip_ticks, ticktext=[str(v) for v in precip_ticks], showgrid=False,
                zeroline=False, showline=True, linecolor="#000000", linewidth=1, ticks="",
                ticklabelstandoff=14, tickfont=dict(family=SANS, size=11, color="#000000"), fixedrange=True),
)

ann = []
for d, lab in zip(day_ticks, date_labels):
    ann.append(dict(x=d, y=py(602), xref="x", yref="paper", text=lab, showarrow=False,
                    textangle=-90, xanchor="center", yanchor="top", xshift=7,
                    font=dict(family=MONO, size=10, color="#000000")))

ann.append(dict(x=px(20), y=py(607), xref="paper", yref="paper", text="(hPa)", showarrow=False,
                xanchor="left", yanchor="middle", font=dict(family=MONO, size=10, color="#000000")))
ann.append(dict(x=px(709), y=py(607), xref="paper", yref="paper", text="(mm)", showarrow=False,
                xanchor="left", yanchor="middle", font=dict(family=MONO, size=10, color="#000000")))
ann.append(dict(x=px(59), y=py(526), xref="paper", yref="paper", text="Précipitations", showarrow=False,
                xanchor="left", yanchor="middle", font=dict(family=MONO, size=10, color="#000000")))

shapes = []
for (x0, x1, yy, col, txt) in [(35, 65, 652, "#ff0000", "Moyenne des scénarios"),
                               (225, 256, 637, "#0000ff", "Run de contrôle"),
                               (225, 256, 647, "#000000", "Run GFS")]:
    shapes.append(dict(type="line", xref="paper", yref="paper", x0=px(x0), x1=px(x1), y0=py(yy), y1=py(yy),
                       line=dict(color=col, width=4)))
    ann.append(dict(x=px(x1 + 9), y=py(yy), xref="paper", yref="paper", text=txt, showarrow=False,
                    xanchor="left", yanchor="middle", font=dict(family=MONO, size=10, color="#000000")))

ann.append(dict(x=px(369), y=py(652), xref="paper", yref="paper", text="20 Perturbations", showarrow=False,
                xanchor="left", yanchor="middle", font=dict(family=MONO, size=10, color="#000000")))
for i, (nm, col) in enumerate(zip(member_names, member_colors)):
    x0 = 470 + i * 11
    shapes.append(dict(type="rect", xref="paper", yref="paper", x0=px(x0), x1=px(x0 + 10),
                       y0=py(656), y1=py(650), fillcolor=col, line=dict(width=0)))
    ann.append(dict(x=px(x0 + 5), y=py(644), xref="paper", yref="paper", text=nm, showarrow=False,
                    xanchor="center", yanchor="middle",
                    font=dict(family=SANS, size=7, color="#000000")))

shapes.append(dict(type="rect", xref="paper", yref="paper", x0=px(20.5), x1=px(440.5), y0=py(699.5), y1=py(667.5),
                   line=dict(color="#000000", width=1), fillcolor="rgba(0,0,0,0)"))
ann.append(dict(x=px(29), y=py(677), xref="paper", yref="paper",
                text="<b>Diagramme des ensembles GEFS sur 384h : 51.9N 6.5E</b>", showarrow=False,
                xanchor="left", yanchor="middle", font=dict(family=MONO, size=11, color="#000000")))
ann.append(dict(x=px(29), y=py(691), xref="paper", yref="paper",
                text="Température 2m (°C) , précipitations (mm)", showarrow=False,
                xanchor="left", yanchor="middle", font=dict(family=MONO, size=10, color="#000000")))
ann.append(dict(x=px(449), y=py(672), xref="paper", yref="paper",
                text="Ensemble GEFS du 30/12/2009 - 18h", showarrow=False,
                xanchor="left", yanchor="middle", font=dict(family=MONO, size=10, color="#000000")))
ann.append(dict(x=px(449), y=py(691), xref="paper", yref="paper",
                text="<b>Copyright 2009 Meteociel.fr</b>", showarrow=False,
                xanchor="left", yanchor="middle", font=dict(family=MONO, size=11, color="#000000")))

fig.update_layout(annotations=ann, shapes=shapes)
fig.write_html("out.html", config={"displayModeBar": False})
